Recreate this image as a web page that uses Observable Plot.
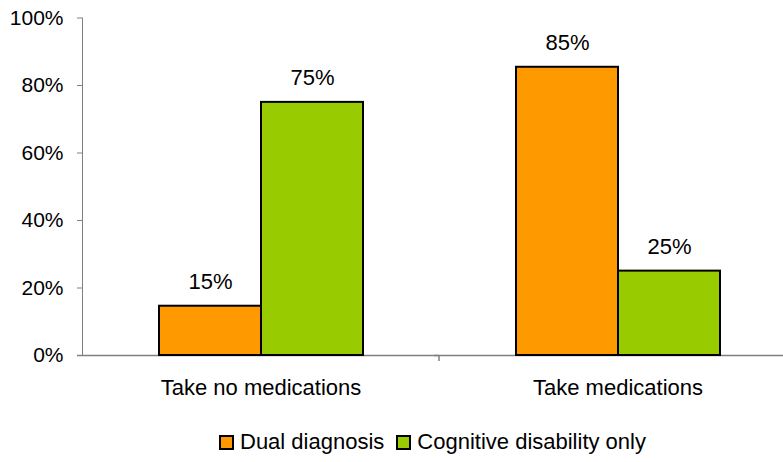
<!DOCTYPE html>
<html>
<head>
<meta charset="utf-8">
<script src="https://cdn.jsdelivr.net/npm/d3@7"></script>
<script src="https://cdn.jsdelivr.net/npm/@observablehq/plot@0.6"></script>
<style>
  html, body { margin: 0; padding: 0; background: #fff; }
  #chart svg text { fill: #000; }
  #legend {
    width: 783px; box-sizing: border-box; padding-left: 82px;
    display: flex; justify-content: center; align-items: center;
    font-family: "Liberation Sans", Arial, sans-serif; font-size: 22px; line-height: 24px;
    margin-top: 10px; color: #000;
  }
  .sw { display: inline-block; width: 11px; height: 11px; border: 2px solid #000; margin-right: 6px; }
  .item { display: inline-flex; align-items: center; margin: 0 6px; }
</style>
</head>
<body>
<div id="chart"></div>
<div id="legend"></div>
<script>
const categories = ["Take no medications", "Take medications"];
const series = ["Dual diagnosis", "Cognitive disability only"];
const dualValues = [14.6, 85.4];
const cognitiveValues = [75, 25];
const seriesColors = ["#FF9900", "#99CC00"];
const yTicks = [0, 20, 40, 60, 80, 100];

const rows = [];
categories.forEach((c, i) => {
  rows.push({category: c, series: series[0], value: dualValues[i]});
  rows.push({category: c, series: series[1], value: cognitiveValues[i]});
});

const chart = Plot.plot({
  width: 783,
  height: 420,
  marginLeft: 82,
  marginRight: 0,
  marginTop: 17.5,
  marginBottom: 65,
  style: {fontFamily: "'Liberation Sans', Arial, sans-serif", fontSize: "21px", color: "#808080", background: "#fff"},
  fx: {domain: categories, range: [82, 796], padding: 0, label: null, tickSize: 0, tickPadding: 24, axis: "bottom"},
  x: {domain: series, paddingInner: 0, paddingOuter: 0.75, axis: null},
  y: {domain: [0, 100], ticks: yTicks, tickFormat: d => d + "%", line: true, tickSize: 5, tickPadding: 14, label: null},
  color: {domain: series, range: seriesColors},
  marks: [
    Plot.ruleY([0], {stroke: "#808080", strokeWidth: 1.5, insetLeft: -5}),
    Plot.barY(rows, {fx: "category", x: "series", y: "value", fill: "series", stroke: "#000", strokeWidth: 2}),
    Plot.text(rows, {fx: "category", x: "series", y: "value", text: d => Math.round(d.value) + "%", lineAnchor: "bottom", dy: -17, fontSize: 22})
  ]
});
document.getElementById("chart").appendChild(chart);

// larger category labels on the fx axis
d3.select(chart).selectAll("g[aria-label^='fx-axis'] text").attr("font-size", 22);
d3.select(chart).selectAll("g[aria-label^='fx-axis']").attr("font-size", 22);

// boundary tick between the category groups, from the fx scale
const fxs = chart.scale("fx");
const yS = chart.scale("y");
const bx = fxs.apply(categories[1]);
d3.select(chart).append("line")
  .attr("x1", bx).attr("x2", bx)
  .attr("y1", yS.apply(0)).attr("y2", yS.apply(0) + 6)
  .attr("stroke", "#808080").attr("stroke-width", 1.5);

const legend = d3.select("#legend");
series.forEach((s, i) => {
  const item = legend.append("span").attr("class", "item");
  item.append("span").attr("class", "sw").style("background", seriesColors[i]);
  item.append("span").text(s);
});
</script>
</body>
</html>
